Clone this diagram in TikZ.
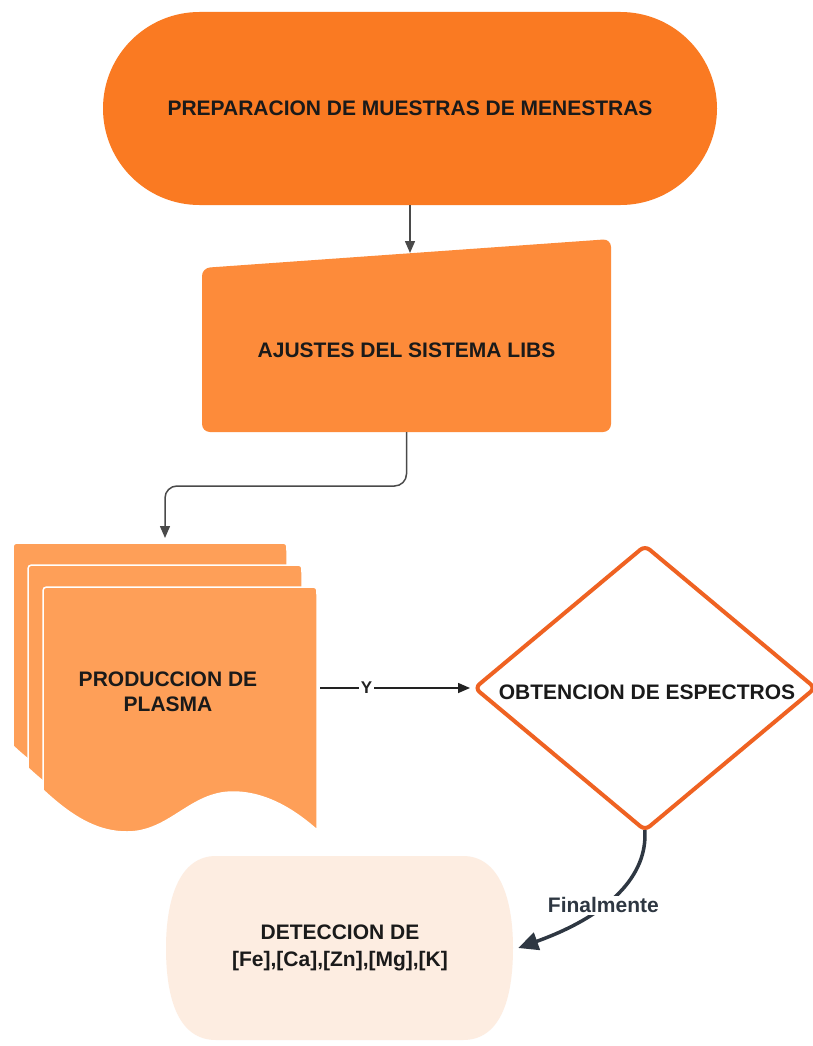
\documentclass[tikz,border=0pt]{standalone}
\usepackage{fontspec}
\setmainfont{Liberation Sans}
\usetikzlibrary{shapes.geometric,shapes.misc,arrows.meta,calc}
\definecolor{prepc}{HTML}{FA7A22}
\definecolor{adjc}{HTML}{FD8B3A}
\definecolor{docc}{HTML}{FE9F58}
\definecolor{specc}{HTML}{EF6222}
\definecolor{detc}{HTML}{FDEDE1}
\definecolor{txt}{HTML}{1A1A1A}
\definecolor{lineg}{HTML}{4A4A4A}
\definecolor{lineb}{HTML}{222222}
\definecolor{darkc}{HTML}{2E3742}
\begin{document}
\begin{tikzpicture}[x=1pt,y=-1pt,
  lbl/.style={font=\fontsize{21}{25}\selectfont\bfseries, text=txt, align=center, inner sep=0pt},
  conn/.style={draw=lineg, line width=1.5pt, -{Triangle[length=12pt,width=10pt]}},
  ghost/.style={inner sep=0pt, outer sep=0pt}]
\useasboundingbox[fill=white] (0,0) rectangle (812,1046);

% top terminator
\node[rounded rectangle, fill=prepc, minimum width=614pt, minimum height=193pt, inner sep=0pt, lbl] (prep) at (410,108.5) {PREPARACION DE MUESTRAS DE MENESTRAS};

% manual input
\fill[adjc, rounded corners=8pt] (202,268) -- (611,239) -- (611,432) -- (202,432) -- cycle;
\node[lbl, minimum width=409pt, minimum height=164pt] (adj) at (406.5,350) {AJUSTES DEL SISTEMA LIBS};
\coordinate (adjtop) at (410,253);

% multi document
\foreach \dx/\dy in {-30/-44,-15/-22,0/0}{
  \begin{scope}[shift={(\dx,\dy)}]
    \fill[docc, draw=white, line width=1.5pt] (43,790) -- (43,595) .. controls (43,587) .. (51,587) -- (309,587) .. controls (317,587) .. (317,595) -- (317,830)
      .. controls (300,815) and (270,792) .. (233,792)
      .. controls (190,792) and (170,832) .. (127,832)
      .. controls (100,832) and (75,820) .. (43,790) -- cycle;
  \end{scope}
}
\node[ghost, minimum width=274pt, minimum height=203pt] (docback) at (150,644.5) {};
\node[ghost, minimum width=274pt, minimum height=243pt] (plasma) at (180,708.5) {};
\node[lbl] (plasmatxt) at (168,692) {PRODUCCION DE\\PLASMA};

% decision
\node[diamond, draw=specc, line width=4pt, fill=white, minimum width=342pt, minimum height=286pt, inner sep=0pt, rounded corners=6pt] (spec) at (645,688) {};
\node[lbl] (spectxt) at (647,692) {OBTENCION DE ESPECTROS};

% bottom terminator
\fill[detc] (216,856) -- (463,856) .. controls (500,856) and (513,900) .. (513,948)
  .. controls (513,1000) and (500,1040) .. (463,1040) -- (216,1040)
  .. controls (179,1040) and (166,1000) .. (166,948)
  .. controls (166,900) and (179,856) .. (216,856) -- cycle;
\node[lbl, font=\fontsize{21}{27}\selectfont\bfseries, minimum width=356pt, minimum height=184pt] (det) at (340,948) {DETECCION DE\\{}[Fe],[Ca],[Zn],[Mg],[K]};

% connectors
\draw[conn] (prep.south) -- (adjtop);
\coordinate (bend) at (165,486);
\draw[conn, rounded corners=12pt, shorten >=5pt] (adj.south) |- (bend) -- (docback.north -| bend);
\draw[conn, draw=lineb, shorten <=3pt, shorten >=2pt] (plasma.east |- spec.west) -- node[pos=0.32, fill=white, inner sep=1.5pt, font=\fontsize{17}{20}\selectfont\bfseries, text=lineb] (ylbl) {Y} (spec.west);
\draw[draw=darkc, line width=3.5pt, -{Triangle[length=20pt,width=18pt]}, shorten <=-3pt] (spec.south) .. controls (648,875) and (610,915) .. (det.east)
  node[pos=0.6, fill=white, inner sep=2pt, font=\fontsize{21}{25}\selectfont\bfseries, text=darkc] (fin) {Finalmente};
\end{tikzpicture}
\end{document}
